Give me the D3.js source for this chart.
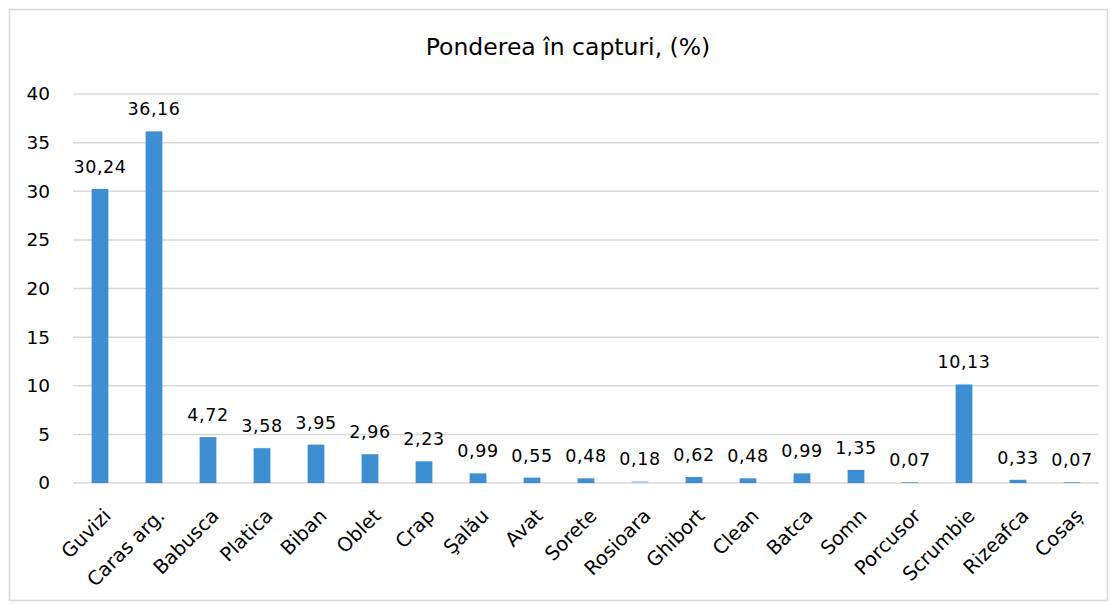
<!DOCTYPE html>
<html><head><meta charset="utf-8">
<script src="https://cdn.jsdelivr.net/npm/d3@7"></script>
<style>body{margin:0;background:#fff}svg{display:block}</style>
</head><body>
<svg id="c" width="1111" height="604"></svg>
<script>
const categories = ["Guvizi","Caras arg.","Babusca","Platica","Biban","Oblet","Crap","Şalău","Avat","Sorete","Rosioara","Ghibort","Clean","Batca","Somn","Porcusor","Scrumbie","Rizeafca","Cosaș"];
const values = [30.24,36.16,4.72,3.58,3.95,2.96,2.23,0.99,0.55,0.48,0.18,0.62,0.48,0.99,1.35,0.07,10.13,0.33,0.07];
const yTicks = [0,5,10,15,20,25,30,35,40];
const title = "Ponderea în capturi, (%)";

const svg = d3.select("#c");
const font = "'DejaVu Sans', Verdana, sans-serif";
svg.append("rect").attr("x",9.5).attr("y",9.5).attr("width",1098).attr("height",591)
  .attr("fill","#fff").attr("stroke","#d9d9d9").attr("stroke-width",1.5);

const m = {l:73, r:1099, t:94, b:483};
const x = d3.scaleBand().domain(categories).range([m.l,m.r]).paddingInner(0.69).paddingOuter(0.345);
const y = d3.scaleLinear().domain([0,40]).range([m.b,m.t]);

svg.append("g").selectAll("line").data(yTicks).join("line")
  .attr("x1",m.l).attr("x2",m.r).attr("y1",d=>y(d)).attr("y2",d=>y(d))
  .attr("stroke","#d9d9d9").attr("stroke-width",1.5);

const yAxis = svg.append("g").attr("transform",`translate(${m.l},0)`)
  .call(d3.axisLeft(y).tickValues(yTicks).tickSize(0).tickPadding(23));
yAxis.select(".domain").remove();
yAxis.selectAll("text").attr("font-family",font).attr("font-size",18.5).attr("fill","#000");

svg.selectAll("rect.bar").data(values).join("rect").attr("class","bar")
  .attr("x",(d,i)=>x(categories[i])).attr("width",x.bandwidth())
  .attr("y",d=>y(d)).attr("height",d=>y(0)-y(d))
  .attr("fill",(d,i)=>categories[i]==="Rosioara"?"#a9c8ea":"#3d8fd1");

const fmt = d=>d.toFixed(2).replace(".",",");
svg.selectAll("text.val").data(values).join("text")
  .attr("x",(d,i)=>x(categories[i])+x.bandwidth()/2).attr("y",d=>y(d)-16)
  .attr("text-anchor","middle").attr("font-family",font).attr("font-size",17.5)
  .attr("letter-spacing",0.6).attr("fill","#000")
  .text(fmt);

const xAxis = svg.append("g").attr("transform",`translate(0,${m.b})`)
  .call(d3.axisBottom(x).tickSize(0).tickPadding(0));
xAxis.select(".domain").remove();
xAxis.selectAll("text").attr("font-family",font).attr("font-size",19.5).attr("fill","#000")
  .attr("text-anchor","end").attr("dy",0)
  .attr("transform","translate(12,34) rotate(-45)");

svg.append("text").attr("x",568).attr("y",55).attr("text-anchor","middle")
  .attr("font-family",font).attr("font-size",23.5).attr("fill","#000").text(title);
</script>
</body></html>
